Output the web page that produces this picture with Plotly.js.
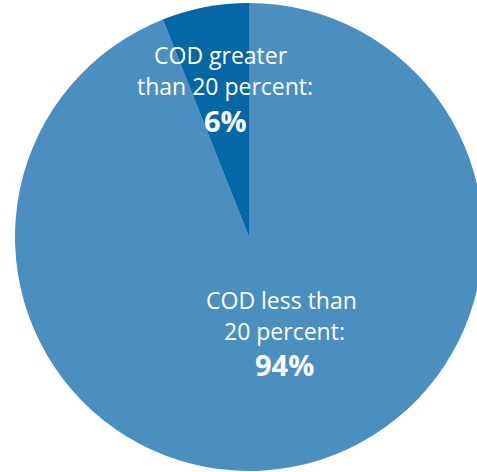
<!DOCTYPE html>
<html>
<head>
<meta charset="utf-8">
<script src="https://cdn.plot.ly/plotly-3.0.1.min.js"></script>
<style>
html,body{margin:0;padding:0;overflow:hidden;background:#fff;width:477px;height:472px;}
#chart{width:483px;height:472px;}
</style>
</head>
<body>
<div id="chart"></div>
<script>
const categories = ["COD less than 20 percent", "COD greater than 20 percent"];
const labelLines = [["COD less than", "20 percent:"], ["COD greater", "than 20 percent:"]];
const values = [94, 6];
const colors = ["#4b8ec0", "#0567a5"];

const trace = {
  type: "pie",
  labels: categories,
  values: values,
  sort: false,
  direction: "clockwise",
  rotation: 0,
  marker: {colors: colors, line: {width: 0}},
  textinfo: "none",
  hoverinfo: "label+percent",
  showlegend: false
};

const W = 483, H = 472;
const font = "Open Sans, Noto Sans, sans-serif";
function ann(x, y, text, size, bold) {
  return {
    xref: "paper", yref: "paper",
    x: x / 468 - 15/468, y: 1 - (y - 3) / 468,
    xanchor: "center", yanchor: "middle",
    text: bold ? "<b>" + text + "</b>" : text,
    showarrow: false,
    font: {family: font, size: size, color: "#ffffff"}
  };
}
const annotations = [
  ann(221, 55, labelLines[1][0], 23, false),
  ann(225, 86, labelLines[1][1], 23, false),
  ann(225, 120, values[1] + "%", 29, true),
  ann(281, 300, labelLines[0][0], 23, false),
  ann(284, 331, labelLines[0][1], 23, false),
  ann(284, 364, values[0] + "%", 29, true)
];

const layout = {
  width: W, height: H,
  margin: {l: 15, r: 0, t: 3, b: 1, pad: 0},
  paper_bgcolor: "#ffffff",
  annotations: annotations
};

Plotly.newPlot("chart", [trace], layout, {displayModeBar: false, staticPlot: true});
</script>
</body>
</html>
